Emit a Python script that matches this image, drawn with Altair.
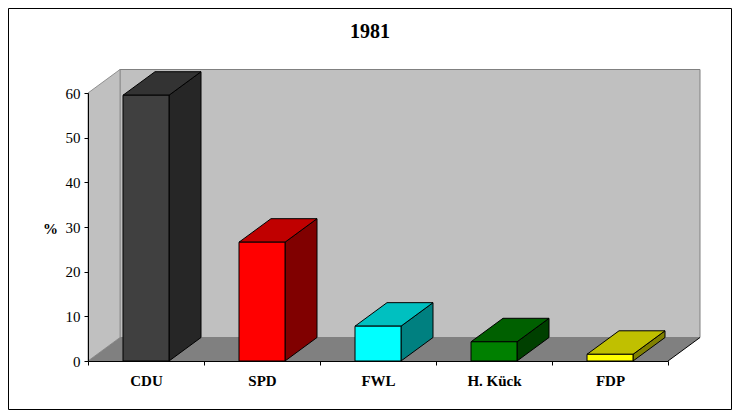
import json
import altair as alt
import pandas as pd

# ---- data ----
parties = ["CDU", "SPD", "FWL", "H. Kück", "FDP"]
values = [59.5, 26.6, 7.8, 4.3, 1.5]
front_colors = ["#404040", "#FF0000", "#00FFFF", "#008000", "#FFFF00"]
top_colors = ["#333333", "#C00000", "#00C0C0", "#006000", "#C0C000"]
side_colors = ["#262626", "#800000", "#008080", "#004000", "#808000"]
y_ticks = [0, 10, 20, 30, 40, 50, 60]
title_text = "1981"
y_title = "%"

# ---- geometry (style) ----
W, H = 580, 268
PAD = {"left": 80, "top": 85, "right": 64, "bottom": 49}
YMAX = 60
N = len(parties)
DX = 32 / (W / N)          # depth offset in x units
DY = 23.5 / (H / YMAX)     # depth offset in y units
HW = 23 / (W / N)          # half bar width in x units
FONT = "Liberation Serif"

xs = alt.Scale(domain=[0, N], nice=False, zero=False)
ys = alt.Scale(domain=[0, YMAX], nice=False, zero=False)

fronts, tops, sides = [], [], []
for i, (p, v) in enumerate(zip(parties, values)):
    c = i + 0.5
    x0, x1 = c - HW, c + HW
    fronts.append({"party": p, "x": x0, "x2": x1, "y": 0, "y2": v, "fill": front_colors[i]})
    for (xx, ya, yb) in [(x0, v, v), (x0 + DX, v, v + DY), (x1, v, v + DY), (x1 + DX, v + DY, v + DY)]:
        tops.append({"party": p, "x": xx, "y": ya, "y2": yb, "fill": top_colors[i]})
    for (xx, ya, yb) in [(x1, 0, v), (x1 + DX, DY, v + DY)]:
        sides.append({"party": p, "x": xx, "y": ya, "y2": yb, "fill": side_colors[i]})

back_wall = pd.DataFrame([{"x": DX, "x2": N + DX, "y": DY, "y2": YMAX + DY}])
left_wall = pd.DataFrame([{"x": 0, "y": 0, "y2": YMAX}, {"x": DX, "y": DY, "y2": YMAX + DY}])
floor = pd.DataFrame([
    {"x": 0, "y": 0, "y2": 0},
    {"x": DX, "y": 0, "y2": DY},
    {"x": N, "y": 0, "y2": DY},
    {"x": N + DX, "y": DY, "y2": DY},
])
floor_edge = pd.DataFrame([{"x": N, "x2": N + DX, "y": 0, "y2": DY}])

names_js = json.dumps(parties, ensure_ascii=False)
x_axis = alt.Axis(
    values=[k / 2 for k in range(2 * N + 1)],
    labelExpr=f"datum.value % 1 === 0 ? '' : {names_js}[floor(datum.value)]",
    tickOpacity={"condition": {"test": "datum.value % 1 === 0", "value": 1}, "value": 0},
    tickSize=4, tickColor="black", domainColor="black", labelColor="black",
    labelFont=FONT, labelFontSize=15, labelFontWeight="bold", labelPadding=8,
    labelOverlap=False, labelFlush=False, grid=False, title=None, zindex=1,
)
y_axis = alt.Axis(
    values=y_ticks, tickSize=4, tickColor="black", domainColor="black", labelColor="black",
    labelFont=FONT, labelFontSize=15, labelPadding=4, labelFlush=False, labelOverlap=False,
    grid=False, title=y_title, titleAngle=0, titleFont=FONT, titleFontSize=15,
    titleFontWeight="bold", titleX=-38, titleY=135, titleAlign="center",
    titleBaseline="middle", titleColor="black", zindex=1,
)


def X(field="x"):
    return alt.X(f"{field}:Q", scale=xs, axis=x_axis)


def Y(field="y"):
    return alt.Y(f"{field}:Q", scale=ys, axis=y_axis)


floor_layer = alt.Chart(floor).mark_area(orient="vertical", fill="#808080", strokeWidth=0).encode(
    x=X(), y=Y(), y2="y2:Q",
)
back_layer = alt.Chart(back_wall).mark_rect(fill="#C0C0C0", stroke="#808080", strokeWidth=1).encode(
    x=X(), x2="x2:Q", y=Y(), y2="y2:Q",
)
left_layer = alt.Chart(left_wall).mark_area(orient="vertical", fill="#C0C0C0", stroke="#909090", strokeWidth=1).encode(
    x=X(), y=Y(), y2="y2:Q",
)
edge_layer = alt.Chart(floor_edge).mark_rule(color="black", strokeWidth=1).encode(
    x=X(), x2="x2:Q", y=Y(), y2="y2:Q",
)
side_layer = alt.Chart(pd.DataFrame(sides)).mark_area(orient="vertical", stroke="black", strokeWidth=1).encode(
    x=X(), y=Y(), y2="y2:Q",
    fill=alt.Fill("fill:N", scale=None), detail="party:N",
)
top_layer = alt.Chart(pd.DataFrame(tops)).mark_area(orient="vertical", stroke="black", strokeWidth=1).encode(
    x=X(), y=Y(), y2="y2:Q",
    fill=alt.Fill("fill:N", scale=None), detail="party:N",
)
front_layer = alt.Chart(pd.DataFrame(fronts)).mark_rect(stroke="black", strokeWidth=1).encode(
    x=X(), x2="x2:Q", y=Y(), y2="y2:Q",
    fill=alt.Fill("fill:N", scale=None),
)
TOTAL_W = W + PAD["left"] + PAD["right"]
TOTAL_H = H + PAD["top"] + PAD["bottom"]
frame_layer = alt.Chart(alt.Data(values=[{}])).mark_rect(fill="transparent", stroke="black", strokeWidth=1).encode(
    x=alt.value(-PAD["left"] + 0.5), x2=alt.value(TOTAL_W - PAD["left"] - 0.5),
    y=alt.value(-PAD["top"] + 0.5), y2=alt.value(TOTAL_H - PAD["top"] - 0.5),
)
title_layer = alt.Chart(alt.Data(values=[{"t": title_text}])).mark_text(
    font=FONT, fontSize=20, fontWeight="bold", color="black", align="center", baseline="alphabetic",
).encode(
    text="t:N", x=alt.value(282), y=alt.value(-55),
)

chart = alt.layer(
    back_layer, left_layer, floor_layer, edge_layer, side_layer, top_layer, front_layer,
    frame_layer, title_layer,
).properties(
    width=W, height=H,
    autosize=alt.AutoSizeParams(type="none"),
    padding=PAD,
    background="white",
).configure_view(stroke=None)

chart.save("out.html", embed_options={"renderer": "svg", "actions": False})
